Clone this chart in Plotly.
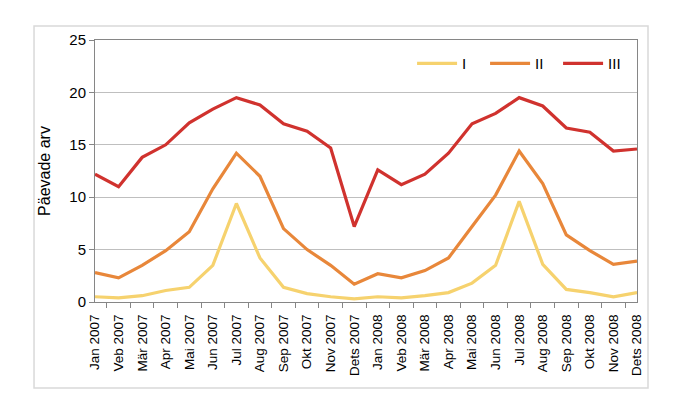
import plotly.graph_objects as go

months = ["Jan 2007", "Veb 2007", "Mär 2007", "Apr 2007", "Mai 2007", "Jun 2007",
          "Jul 2007", "Aug 2007", "Sep 2007", "Okt 2007", "Nov 2007", "Dets 2007",
          "Jan 2008", "Veb 2008", "Mär 2008", "Apr 2008", "Mai 2008", "Jun 2008",
          "Jul 2008", "Aug 2008", "Sep 2008", "Okt 2008", "Nov 2008", "Dets 2008"]

series_I = [0.5, 0.4, 0.6, 1.1, 1.4, 3.5, 9.4, 4.2, 1.4, 0.8, 0.5, 0.3,
            0.5, 0.4, 0.6, 0.9, 1.8, 3.5, 9.6, 3.6, 1.2, 0.9, 0.5, 0.9]
series_II = [2.8, 2.3, 3.5, 4.9, 6.7, 10.8, 14.2, 12.0, 7.0, 5.0, 3.5, 1.7,
             2.7, 2.3, 3.0, 4.2, 7.2, 10.2, 14.4, 11.3, 6.4, 4.9, 3.6, 3.9]
series_III = [12.2, 11.0, 13.8, 15.0, 17.1, 18.4, 19.5, 18.8, 17.0, 16.3, 14.7, 7.2,
              12.6, 11.2, 12.2, 14.2, 17.0, 18.0, 19.5, 18.7, 16.6, 16.2, 14.4, 14.6]

names = ["I", "II", "III"]
colors = ["#F6D26E", "#E8873A", "#D0322E"]
y_ticks = [0, 5, 10, 15, 20, 25]

fig = go.Figure()
for name, vals, col in zip(names, [series_I, series_II, series_III], colors):
    fig.add_trace(go.Scatter(x=months, y=vals, name=name, mode="lines",
                             line=dict(color=col, width=3.2)))

font = "Liberation Sans, Arial, sans-serif"
fig.update_layout(
    width=678, height=405,
    margin=dict(l=87, r=49, t=32, b=111, autoexpand=False),
    paper_bgcolor="white", plot_bgcolor="white",
    font=dict(family=font, color="#000000", size=13),
    showlegend=True,
    legend=dict(orientation="h", x=0.585, xanchor="left", y=0.91, yanchor="middle",
                font=dict(size=15, family=font, color="#000000"),
                bgcolor="rgba(0,0,0,0)", itemwidth=40, tracegroupgap=0,
                entrywidth=18, entrywidthmode="pixels"),
    xaxis=dict(type="category", tickangle=-90, tickson="boundaries",
               ticks="outside", ticklen=5, tickcolor="#868686",
               showline=True, linecolor="#868686", linewidth=1, mirror=True,
               showgrid=False, automargin=False, ticklabelstandoff=6,
               tickfont=dict(size=13.5, family=font, color="#000000")),
    yaxis=dict(range=[0, 25], tickvals=y_ticks, ticks="outside", ticklen=5,
               tickcolor="#868686", showline=True, linecolor="#868686", linewidth=1,
               mirror=True, showgrid=True, gridcolor="#BFBFBF", gridwidth=1,
               zeroline=False, automargin=False,
               tickfont=dict(size=15, family=font, color="#000000"),
               title=dict(text="Päevade arv", font=dict(size=16, family=font, color="#000000"),
                          standoff=14)),
    shapes=[dict(type="rect", xref="paper", yref="paper",
                 x0=-0.1125, x1=1.0203, y0=-0.328, y1=1.0534,
                 line=dict(color="#D9D9D9", width=1.5), fillcolor="rgba(0,0,0,0)",
                 layer="below")],
)

fig.write_html("out.html")
